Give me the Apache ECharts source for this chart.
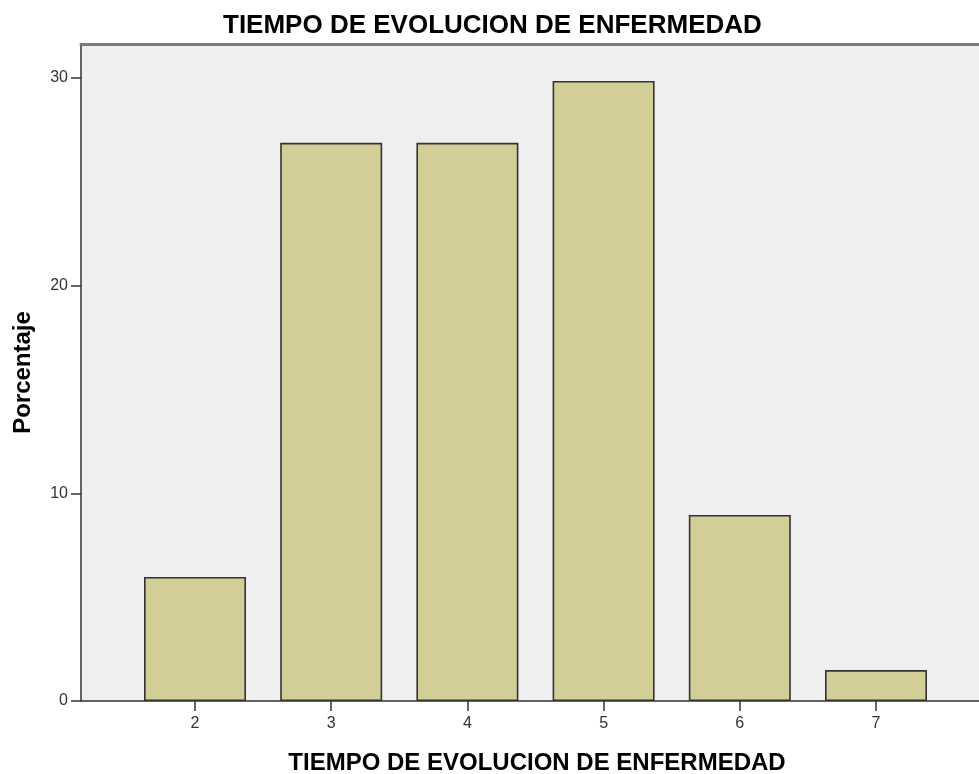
<!DOCTYPE html>
<html>
<head>
<meta charset="utf-8">
<script src="https://cdn.jsdelivr.net/npm/echarts@6/dist/echarts.min.js"></script>
<style>
html,body{margin:0;padding:0;background:#fff;overflow:hidden;}
#chart{width:979px;height:774px;}
</style>
</head>
<body>
<div id="chart"></div>
<script>
// Data
const categories = [2, 3, 4, 5, 6, 7];
const percentages = [5.97, 26.87, 26.87, 29.85, 8.96, 1.49];
const yTickValues = [0, 10, 20, 30];
const titleText = 'TIEMPO DE EVOLUCION DE ENFERMEDAD';
const xAxisTitle = 'TIEMPO DE EVOLUCION DE ENFERMEDAD';
const yAxisTitle = 'Porcentaje';

const xMin = 1.163, xMax = 7.859;
const yMin = 0, yMax = 31.63;

const chart = echarts.init(document.getElementById('chart'), null, {renderer: 'canvas'});
const font = '"Liberation Sans", Arial, sans-serif';

chart.setOption({
  animation: false,
  backgroundColor: '#ffffff',
  title: {
    text: titleText,
    left: 218,
    top: 8,
    textStyle: {fontFamily: font, fontWeight: 'bold', fontSize: 26, color: '#000'}
  },
  grid: {
    left: 81, right: -14, top: 44, bottom: 73,
    show: true, backgroundColor: '#EFEFEF', borderWidth: 0,
    containLabel: false,
    outerBoundsMode: 'none'
  },
  xAxis: [{
    type: 'value', min: xMin, max: xMax, position: 'bottom',
    name: xAxisTitle, nameLocation: 'middle', nameGap: 50,
    nameTextStyle: {fontFamily: font, fontWeight: 'bold', fontSize: 24, color: '#000'},
    axisLine: {show: true, onZero: false, lineStyle: {color: '#333', width: 1.5}},
    axisTick: {show: true, inside: false, length: 10, customValues: categories, lineStyle: {color: '#333', width: 1.5}},
    axisLabel: {show: true, margin: 15, customValues: categories, fontFamily: font, fontSize: 16, color: '#333'},
    splitLine: {show: false}
  }, {
    type: 'value', min: xMin, max: xMax, position: 'top',
    axisLine: {show: true, onZero: false, lineStyle: {color: '#7a7a7a', width: 3}},
    axisTick: {show: false}, axisLabel: {show: false}, splitLine: {show: false}
  }],
  yAxis: {
    type: 'value', min: yMin, max: yMax,
    name: yAxisTitle, nameLocation: 'middle', nameGap: 46, nameRotate: 90,
    nameTextStyle: {fontFamily: font, fontWeight: 'bold', fontSize: 24, color: '#000'},
    axisLine: {show: true, onZero: false, lineStyle: {color: '#333', width: 1.5}},
    axisTick: {show: true, inside: false, length: 10, customValues: yTickValues, lineStyle: {color: '#333', width: 1.5}},
    axisLabel: {show: true, margin: 13, customValues: yTickValues, fontFamily: font, fontSize: 16, color: '#333'},
    splitLine: {show: false}
  },
  series: [{
    type: 'bar',
    xAxisIndex: 0,
    barWidth: 102,
    data: categories.map((c, i) => [c, percentages[i]]),
    itemStyle: {color: '#D3CE98', borderColor: '#333', borderWidth: 1.6},
    emphasis: {disabled: true}
  }]
});
</script>
</body>
</html>
